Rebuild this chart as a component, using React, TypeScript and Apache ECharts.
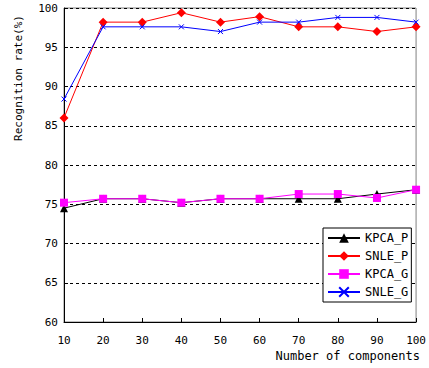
import React, { useEffect, useRef } from "react";
import * as echarts from "echarts";

const components = [10, 20, 30, 40, 50, 60, 70, 80, 90, 100];
const kpcaP = [74.5, 75.7, 75.7, 75.2, 75.7, 75.7, 75.7, 75.7, 76.3, 76.85];
const snleP = [86.0, 98.2, 98.2, 99.4, 98.2, 98.9, 97.6, 97.6, 97.0, 97.6];
const kpcaG = [75.2, 75.7, 75.7, 75.2, 75.7, 75.7, 76.3, 76.3, 75.8, 76.85];
const snleG = [88.4, 97.6, 97.6, 97.6, 97.0, 98.2, 98.2, 98.8, 98.8, 98.2];

const FONT = "'DejaVu Sans Mono', monospace";

const pair = (ys: number[]) => components.map((x, i) => [x, ys[i]]);

export default function App() {
  const ref = useRef<HTMLDivElement>(null);
  useEffect(() => {
    if (!ref.current) return;
    const chart = echarts.init(ref.current, undefined, { renderer: "svg" });
    const mk = (name: string, data: number[], color: string, symbol: string, size: number, extra: any = {}) => ({
      name,
      type: "line",
      data: pair(data),
      symbol,
      symbolSize: size,
      lineStyle: { color, width: 1 },
      itemStyle: { color, ...extra },
      z: 3,
    });
    chart.setOption({
      animation: false,
      backgroundColor: "#ffffff",
      textStyle: { fontFamily: FONT },
      grid: {
        left: 64,
        right: 8,
        top: 8,
        bottom: 46,
        show: true,
        borderColor: "#808080",
        borderWidth: 1,
        backgroundColor: "transparent",
      },
      xAxis: {
        type: "value",
        min: 10,
        max: 100,
        interval: 10,
        axisLine: { show: true, onZero: false, lineStyle: { color: "#000", width: 1 } },
        axisTick: { show: true, inside: true, length: 4, lineStyle: { color: "#000" } },
        axisLabel: { color: "#000", fontSize: 11, fontFamily: FONT, margin: 13 },
        splitLine: { show: false },
      },
      yAxis: {
        type: "value",
        min: 60,
        max: 100,
        interval: 5,
        axisLine: { show: true, lineStyle: { color: "#000", width: 1 } },
        axisTick: { show: true, inside: true, length: 4, lineStyle: { color: "#000" } },
        axisLabel: { color: "#000", fontSize: 11, fontFamily: FONT, margin: 6 },
        splitLine: { show: true, lineStyle: { color: "#000", type: [3, 3], width: 1 } },
      },
      legend: {
        orient: "vertical",
        left: 323,
        top: 228,
        padding: [4, 3, 4, 4],
        itemWidth: 32,
        itemHeight: 12,
        itemGap: 6,
        borderColor: "#000",
        borderWidth: 1,
        backgroundColor: "#ffffff",
        textStyle: { color: "#000", fontSize: 12, fontFamily: FONT },
        data: ["KPCA_P", "SNLE_P", "KPCA_G", "SNLE_G"],
      },
      graphic: [
        {
          type: "text",
          x: 18,
          y: 78,
          rotation: Math.PI / 2,
          style: {
            text: "Recognition rate(%)",
            fontSize: 11,
            fontFamily: FONT,
            fill: "#000",
            align: "center",
            verticalAlign: "middle",
          },
        },
        {
          type: "text",
          x: 420,
          y: 356,
          style: {
            text: "Number of components",
            fontSize: 12,
            fontFamily: FONT,
            fill: "#000",
            align: "right",
            verticalAlign: "middle",
          },
        },
      ],
      series: [
        mk("KPCA_P", kpcaP, "#000000", "triangle", 8),
        mk("SNLE_P", snleP, "#ff0000", "diamond", 9),
        mk("KPCA_G", kpcaG, "#ff00ff", "rect", 8),
        mk("SNLE_G", snleG, "#0000ff", "path://M0,0L10,10M10,0L0,10", 5, {
          borderColor: "#0000ff",
          borderWidth: 1,
        }),
      ],
    });
    return () => chart.dispose();
  }, []);
  return (
    <div
      ref={ref}
      style={{ position: "fixed", left: 0, top: 0, width: 429, height: 368 }}
    />
  );
}
